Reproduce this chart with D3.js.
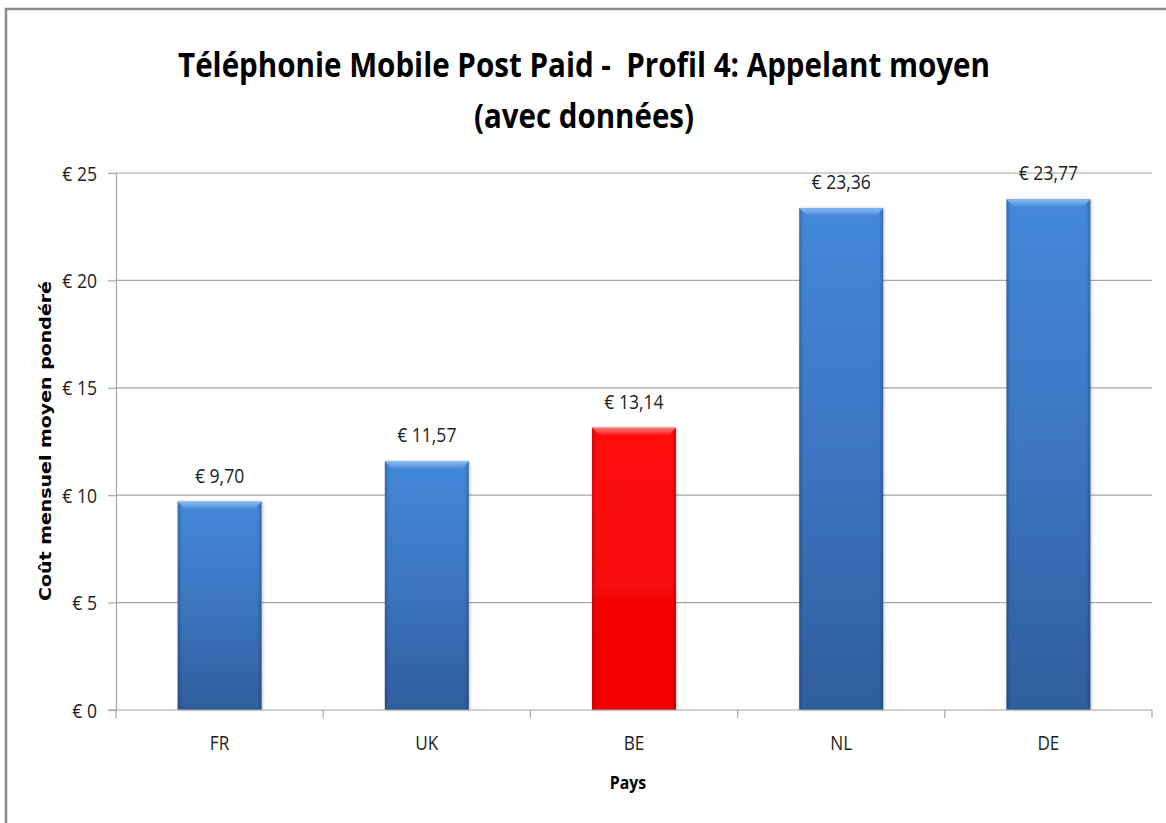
<!DOCTYPE html>
<html>
<head>
<meta charset="utf-8">
<script src="https://cdn.jsdelivr.net/npm/d3@7"></script>
<style>
  html, body { margin: 0; padding: 0; background: #fff; }
  svg { display: block; }
</style>
</head>
<body>
<script>
// ---- data ----
const categories = ["FR", "UK", "BE", "NL", "DE"];
const values = [9.70, 11.57, 13.14, 23.36, 23.77];
const highlighted = ["BE"];
const yTicks = [0, 5, 10, 15, 20, 25];
const titleLines = ["Téléphonie Mobile Post Paid -  Profil 4: Appelant moyen", "(avec données)"];
const yAxisTitle = "Coût mensuel moyen pondéré";
const xAxisTitle = "Pays";

// ---- layout ----
const W = 1166, H = 823;
const plot = { left: 116, right: 1152, top: 173, bottom: 710 };
const euro = d3.formatLocale({ decimal: ",", thousands: ".", grouping: [3], currency: ["€ ", ""] });
const fmtVal = v => "€ " + euro.format(".2f")(v);
const fmtTick = v => "€ " + v;

const svg = d3.select("body").append("svg").attr("width", W).attr("height", H);
const defs = svg.append("defs");

function vGrad(id, stops) {
  const g = defs.append("linearGradient").attr("id", id).attr("x1", 0).attr("y1", 0).attr("x2", 0).attr("y2", 1);
  stops.forEach(s => g.append("stop").attr("offset", s[0]).attr("stop-color", s[1]));
}
function hGrad(id, stops) {
  const g = defs.append("linearGradient").attr("id", id).attr("x1", 0).attr("y1", 0).attr("x2", 1).attr("y2", 0);
  stops.forEach(s => g.append("stop").attr("offset", s[0]).attr("stop-color", s[1]).attr("stop-opacity", s[2]));
}
vGrad("gBlue", [[0, "#4488da"], [0.5, "#3b75c0"], [1, "#2f5e9d"]]);
vGrad("gBlueTop", [[0, "#86b9f2"], [1, "#4f8fdc"]]);
vGrad("gRed", [[0, "#ff1010"], [1, "#f00000"]]);
vGrad("gRedTop", [[0, "#ff7a7a"], [1, "#ff2020"]]);
hGrad("gSide", [[0, "#000", 0.22], [0.05, "#000", 0.0], [0.95, "#000", 0.0], [1, "#000", 0.22]]);

const shadow = defs.append("filter").attr("id", "shadow").attr("x", "-10%").attr("y", "-10%").attr("width", "120%").attr("height", "120%");
shadow.append("feDropShadow").attr("dx", 1).attr("dy", 0).attr("stdDeviation", 1.5).attr("flood-color", "#000").attr("flood-opacity", 0.25);

// frame
svg.append("rect").attr("x", 6).attr("y", 9).attr("width", W + 20).attr("height", H + 20)
  .attr("fill", "none").attr("stroke", "#8c8c8c").attr("stroke-width", 2.5);

// scales
const x = d3.scaleBand().domain(categories).range([plot.left, plot.right]).paddingInner(0.595).paddingOuter(0.2975);
const y = d3.scaleLinear().domain([0, 25]).range([plot.bottom, plot.top]);

// gridlines
svg.append("g").selectAll("line").data(yTicks.filter(d => d > 0)).join("line")
  .attr("x1", plot.left).attr("x2", plot.right)
  .attr("y1", d => y(d)).attr("y2", d => y(d))
  .attr("stroke", "#a6a6a6").attr("stroke-width", 1.2);

// y axis
const yAxis = svg.append("g").attr("transform", `translate(${plot.left},0)`)
  .call(d3.axisLeft(y).tickValues(yTicks).tickFormat(fmtTick).tickSize(8).tickPadding(11));
yAxis.select(".domain").attr("stroke", "#a6a6a6").attr("stroke-width", 1.2);
yAxis.selectAll(".tick line").attr("stroke", "#a6a6a6").attr("stroke-width", 1.2);
yAxis.selectAll(".tick text").attr("font-family", "'Open Sans', sans-serif").attr("font-size", 19.5)
  .attr("fill", "#1e1e1e").attr("dy", "0.36em")
  .each(function () { const n = this.getComputedTextLength(); d3.select(this).attr("textLength", n * 0.9).attr("lengthAdjust", "spacingAndGlyphs"); });

// bars
const data = categories.map((c, i) => ({ cat: c, value: values[i], hi: highlighted.includes(c) }));
const bars = svg.append("g").selectAll("g").data(data).join("g");
const bev = 7;
bars.append("rect")
  .attr("x", d => x(d.cat)).attr("y", d => y(d.value))
  .attr("width", x.bandwidth()).attr("height", d => y(0) - y(d.value))
  .attr("fill", d => d.hi ? "url(#gRed)" : "url(#gBlue)")
  .attr("filter", "url(#shadow)");
bars.append("rect")
  .attr("x", d => x(d.cat)).attr("y", d => y(d.value))
  .attr("width", x.bandwidth()).attr("height", d => y(0) - y(d.value))
  .attr("fill", "url(#gSide)");
bars.append("polygon")
  .attr("points", d => {
    const x0 = x(d.cat), x1 = x0 + x.bandwidth(), t = y(d.value);
    return [[x0, t], [x1, t], [x1 - bev, t + bev], [x0 + bev, t + bev]].map(p => p.join(",")).join(" ");
  })
  .attr("fill", d => d.hi ? "url(#gRedTop)" : "url(#gBlueTop)");

// x axis
svg.append("line").attr("x1", plot.left - 8).attr("x2", plot.right)
  .attr("y1", plot.bottom).attr("y2", plot.bottom).attr("stroke", "#a6a6a6").attr("stroke-width", 1.2);
const boundaries = d3.range(categories.length + 1).map(i => plot.left + i * x.step());
svg.append("g").selectAll("line").data(boundaries).join("line")
  .attr("x1", d => d).attr("x2", d => d).attr("y1", plot.bottom).attr("y2", plot.bottom + 8)
  .attr("stroke", "#a6a6a6").attr("stroke-width", 1.2);
svg.append("g").selectAll("text").data(categories).join("text")
  .attr("x", d => x(d) + x.bandwidth() / 2).attr("y", plot.bottom + 40)
  .attr("text-anchor", "middle").attr("font-family", "'Open Sans', sans-serif").attr("font-size", 19.5)
  .attr("fill", "#1e1e1e").text(d => d)
  .each(function () { const n = this.getComputedTextLength(); d3.select(this).attr("textLength", n * 0.88).attr("lengthAdjust", "spacingAndGlyphs"); });

// value labels
svg.append("g").selectAll("text").data(data).join("text")
  .attr("x", d => x(d.cat) + x.bandwidth() / 2).attr("y", d => y(d.value) - 19)
  .attr("text-anchor", "middle").attr("font-family", "'Open Sans', sans-serif").attr("font-size", 19.5)
  .attr("fill", "#1e1e1e").text(d => fmtVal(d.value))
  .each(function () { const n = this.getComputedTextLength(); d3.select(this).attr("textLength", n * 0.9).attr("lengthAdjust", "spacingAndGlyphs"); });

// titles
const titleG = svg.append("g");
const t1 = titleG.append("text").attr("x", 584).attr("y", 77).text(titleLines[0]);
const t2 = titleG.append("text").attr("x", 584).attr("y", 128).text(titleLines[1]);
titleG.selectAll("text").attr("text-anchor", "middle")
  .attr("font-family", "'Open Sans', sans-serif").attr("font-weight", "bold").attr("font-size", 34)
  .attr("fill", "#000").style("white-space", "pre");
t1.attr("textLength", 812).attr("lengthAdjust", "spacingAndGlyphs");
t2.attr("textLength", 220).attr("lengthAdjust", "spacingAndGlyphs");

svg.append("text").attr("x", (plot.left + plot.right) / 2 - 6).attr("y", 789)
  .attr("text-anchor", "middle").attr("font-family", "'Open Sans', sans-serif").attr("font-weight", "bold")
  .attr("font-size", 18).attr("fill", "#000").text(xAxisTitle)
  .each(function () { const n = this.getComputedTextLength(); d3.select(this).attr("textLength", n * 0.88).attr("lengthAdjust", "spacingAndGlyphs"); });

svg.append("text").attr("transform", "translate(51,441) rotate(-90)")
  .attr("text-anchor", "middle").attr("font-family", "'DejaVu Sans', Verdana, sans-serif").attr("font-weight", "bold")
  .attr("font-size", 16.5).attr("fill", "#000").attr("textLength", 320).attr("lengthAdjust", "spacingAndGlyphs")
  .text(yAxisTitle);
</script>
</body>
</html>
